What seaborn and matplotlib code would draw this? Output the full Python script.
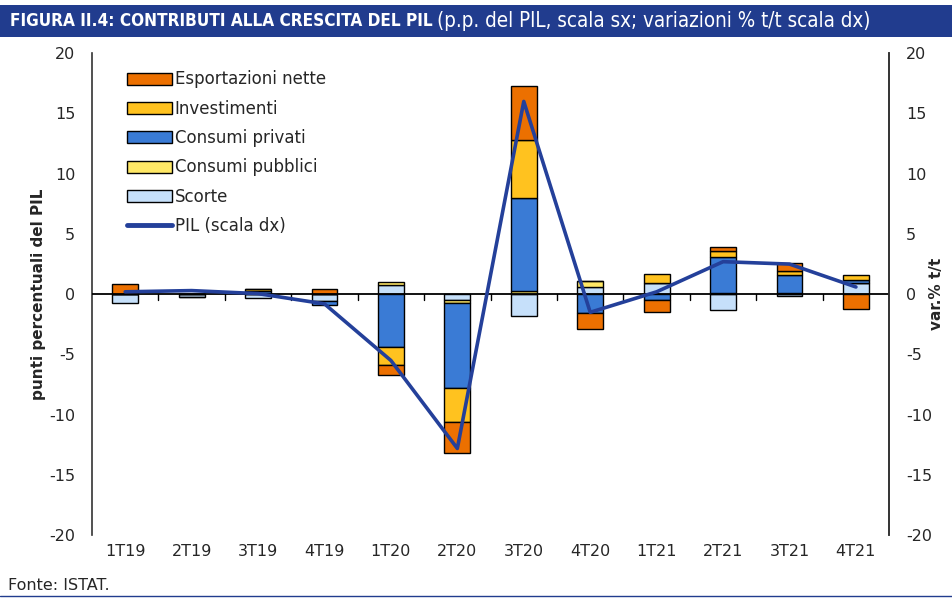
"""Contributi alla crescita del PIL - barre impilate + linea PIL (scala dx)."""

import matplotlib
matplotlib.use("Agg")

import matplotlib.pyplot as plt
import numpy as np
import pandas as pd
import seaborn as sns
from matplotlib.lines import Line2D
from matplotlib.patches import Patch, Rectangle

trimestri = ["1T19", "2T19", "3T19", "4T19", "1T20", "2T20",
             "3T20", "4T20", "1T21", "2T21", "3T21", "4T21"]

scorte = [-0.75, -0.2, -0.3, -0.6, 0.75, -0.5, -1.8, 0.6, 0.9, -1.3, -0.15, 0.95]
consumi_pubblici = [0.0, 0.0, 0.05, 0.0, 0.25, -0.2, 0.25, 0.5, 0.0, 0.1, 0.1, 0.0]
consumi_privati = [0.0, -0.05, 0.2, -0.3, -4.4, -7.1, 7.75, -1.6, -0.5, 3.0, 1.5, 0.2]
investimenti = [0.05, 0.0, 0.15, 0.0, -1.5, -2.8, 4.8, 0.0, 0.8, 0.45, 0.35, 0.45]
esportazioni_nette = [0.8, 0.0, 0.0, 0.45, -0.8, -2.6, 4.5, -1.25, -0.95, 0.35, 0.6, -1.25]
pil = [0.2, 0.3, 0.05, -0.8, -5.5, -12.8, 16.0, -1.5, 0.2, 2.7, 2.5, 0.6]

serie = [
    ("Scorte", scorte, "#C6E0FA"),
    ("Consumi pubblici", consumi_pubblici, "#FFE866"),
    ("Consumi privati", consumi_privati, "#3A7BD5"),
    ("Investimenti", investimenti, "#FFC21F"),
    ("Esportazioni nette", esportazioni_nette, "#EC7000"),
]
colore_pil = "#24409A"
blu_titolo = "#213C8E"


def main() -> None:
    sns.set_style("white")
    plt.rcParams["font.family"] = ["DejaVu Sans"]
    plt.rcParams["axes.unicode_minus"] = False

    fig = plt.figure(figsize=(9.53, 5.98), dpi=100)
    ax = fig.add_axes([0.0965, 0.105, 0.8365, 0.806])

    pos_base = np.zeros(len(trimestri))
    neg_base = np.zeros(len(trimestri))
    for nome, valori, colore in serie:
        v = np.array(valori, dtype=float)
        bottom = np.where(v >= 0, pos_base, neg_base)
        df = pd.DataFrame({"trimestre": trimestri, "valore": v})
        sns.barplot(data=df, x="trimestre", y="valore", order=trimestri,
                    color=colore, saturation=1, width=0.39, errorbar=None,
                    bottom=bottom, edgecolor="black", linewidth=1.0, ax=ax)
        pos_base = pos_base + np.where(v > 0, v, 0)
        neg_base = neg_base + np.where(v < 0, v, 0)

    ax.set_xlim(-0.5, len(trimestri) - 0.5)
    ax.set_ylim(-20, 20)
    ax.set_yticks(range(-20, 21, 5))
    ax.axhline(0, color="black", lw=1.3, zorder=5)
    # tacche di separazione sull'asse dello zero
    for b in np.arange(0.5, len(trimestri) - 0.5, 1):
        ax.plot([b, b], [0, -0.5], color="black", lw=1.0, zorder=5)

    ax.set_xlabel("")
    ax.set_ylabel("punti percentuali del PIL", fontsize=11, fontweight="bold",
                  labelpad=2)
    ax.tick_params(axis="x", length=0, labelsize=11.5, pad=6)
    ax.tick_params(axis="y", length=0, labelsize=11.5, pad=12)
    for side in ["top", "bottom"]:
        ax.spines[side].set_visible(False)
    for side in ["left", "right"]:
        ax.spines[side].set_color("#333333")
        ax.spines[side].set_linewidth(1.2)

    ax2 = ax.twinx()
    sns.lineplot(x=np.arange(len(trimestri)), y=pil, color=colore_pil,
                 lw=2.6, ax=ax2, zorder=10)
    ax2.set_ylim(-20, 20)
    ax2.set_yticks(range(-20, 21, 5))
    ax2.set_xlim(-0.5, len(trimestri) - 0.5)
    ax2.set_ylabel("var.% t/t", fontsize=11, fontweight="bold", labelpad=-2)
    ax2.tick_params(axis="y", length=0, labelsize=11.5, pad=12)
    for side in ["top", "bottom", "left"]:
        ax2.spines[side].set_visible(False)
    ax2.spines["right"].set_color("#333333")
    ax2.spines["right"].set_linewidth(1.2)

    handles = [Patch(facecolor=c, edgecolor="black", linewidth=1.0, label=n)
               for n, _, c in reversed(serie)]
    handles.append(Line2D([], [], color=colore_pil, lw=3.5, label="PIL (scala dx)"))
    ax2.legend(handles=handles, loc="upper left", bbox_to_anchor=(0.035, 0.978),
               frameon=False, fontsize=12, handlelength=2.7, handleheight=0.75,
               labelspacing=0.68, handletextpad=0.2, borderaxespad=0)

    # barra del titolo
    fig.add_artist(Rectangle((0, 1 - 37 / 598), 1, 32 / 598, transform=fig.transFigure,
                             facecolor=blu_titolo, edgecolor="none", zorder=0))
    t1 = fig.text(10 / 953, 1 - 21 / 598, "FIGURA II.4: CONTRIBUTI ALLA CRESCITA DEL PIL",
                  color="white", fontsize=12.3, fontweight="bold",
                  fontstretch="condensed", va="center")
    fig.canvas.draw()
    bb = t1.get_window_extent()
    fig.text(bb.x1 / fig.bbox.width + 4 / 953, 1 - 21 / 598,
             "(p.p. del PIL, scala sx; variazioni % t/t scala dx)",
             color="white", fontsize=14.8, fontstretch="condensed", va="center")

    fig.text(8 / 953, 1 - 585 / 598, "Fonte: ISTAT.", fontsize=11.5, va="center")
    fig.add_artist(Line2D([0, 1], [1 - 596 / 598] * 2, transform=fig.transFigure,
                          color=blu_titolo, lw=1.0))

    fig.savefig("out.png", dpi=100)


if __name__ == "__main__":
    main()
